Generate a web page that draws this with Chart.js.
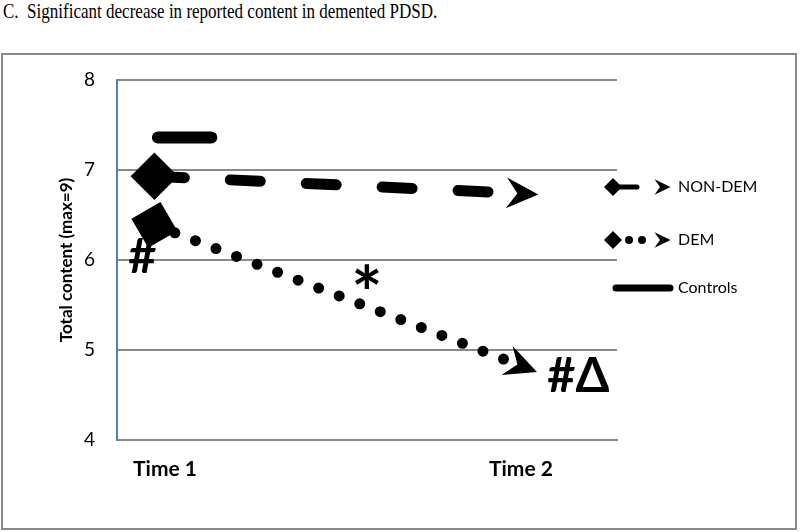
<!DOCTYPE html>
<html>
<head>
<meta charset="utf-8">
<script src="https://cdn.jsdelivr.net/npm/chart.js@4.4.1/dist/chart.umd.min.js"></script>
<style>
  html, body { margin: 0; padding: 0; background: #fff; }
  body { width: 800px; height: 532px; position: relative; overflow: hidden; }
  #caption {
    position: absolute; left: 3px; top: 0px;
    font-family: "Liberation Serif", "Times New Roman", serif;
    font-size: 22px; line-height: 1; white-space: pre; color: #000;
    transform-origin: left top;
  }
  #frame {
    position: absolute; left: 1px; top: 53px; width: 792px; height: 473px;
    border: 2px solid #8a8a8a;
  }
  #wrap { position: absolute; left: 0; top: 0; width: 800px; height: 532px; }
</style>
</head>
<body>
<div id="caption">C.  Significant decrease in reported content in demented PDSD.</div>
<div id="frame"></div>
<div id="wrap"><canvas id="chart" width="800" height="532"></canvas></div>
<script>
document.addEventListener("DOMContentLoaded", function () {

  // data
  const timeLabels = ['Time 1', 'Time 2'];
  const timeX = [0.97, 1.99];
  const nonDem = [6.93, 6.74];
  const dem = [6.39, 4.84];
  const controlsX = [0.98, 1.13];
  const controls = [7.36, 7.36];
  const yTicks = [4, 5, 6, 7, 8];

  // squeeze caption to the width it has in the figure
  const cap = document.getElementById('caption');
  cap.style.transform = 'scaleX(' + (434 / cap.offsetWidth) + ')';

  const pts = (xs, ys) => xs.map((x, i) => ({ x: x, y: ys[i] }));

  function drawArrow(ctx, x, y, ang, s) {
    // notch sits at (x, y), tip points along ang
    ctx.save();
    ctx.translate(x, y);
    ctx.rotate(ang);
    ctx.beginPath();
    ctx.moveTo(21 * s, 0);
    ctx.lineTo(-11 * s, -15.5 * s);
    ctx.lineTo(0, 0);
    ctx.lineTo(-11 * s, 15.5 * s);
    ctx.closePath();
    ctx.fillStyle = '#000';
    ctx.fill();
    ctx.restore();
  }

  function drawDiamond(ctx, x, y, r) {
    ctx.beginPath();
    ctx.moveTo(x - r, y);
    ctx.lineTo(x, y - r);
    ctx.lineTo(x + r, y);
    ctx.lineTo(x, y + r);
    ctx.closePath();
    ctx.fill();
  }

  // draw a glyph string so its ink box is centred on (cx, cy) with height h
  function markText(ctx, txt, cx, cy, h) {
    ctx.font = 'bold 100px Lato';
    let m = ctx.measureText(txt);
    const size = 100 * h / (m.actualBoundingBoxAscent + m.actualBoundingBoxDescent);
    ctx.font = 'bold ' + size + 'px Lato';
    m = ctx.measureText(txt);
    const w = m.actualBoundingBoxLeft + m.actualBoundingBoxRight;
    const x = cx - w / 2 + m.actualBoundingBoxLeft;
    const y = cy + (m.actualBoundingBoxAscent - m.actualBoundingBoxDescent) / 2;
    ctx.fillText(txt, x, y);
  }

  const arrowPlugin = {
    id: 'arrows',
    afterDatasetsDraw(chart) {
      const ctx = chart.ctx;
      chart.data.datasets.forEach((ds, i) => {
        if (!ds.arrowEnd) return;
        const p = chart.getDatasetMeta(i).data;
        const a = p[p.length - 2], b = p[p.length - 1];
        drawArrow(ctx, b.x, b.y, Math.atan2(b.y - a.y, b.x - a.x), 1);
      });

      // significance marks, placed off the DEM line
      const d = chart.getDatasetMeta(1).data;
      ctx.save();
      ctx.fillStyle = '#000';
      ctx.textAlign = 'left';
      ctx.textBaseline = 'alphabetic';
      markText(ctx, '#', d[0].x - 12, d[0].y + 31, 35);
      markText(ctx, '#\u0394', d[1].x + 61, d[1].y + 10, 35);
      markText(ctx, '*', (d[0].x + d[1].x) / 2 + 31, (d[0].y + d[1].y) / 2 - 18, 25);
      ctx.restore();
    }
  };

  const legendPlugin = {
    id: 'sideLegend',
    afterDraw(chart) {
      const ctx = chart.ctx;
      const x0 = 613, tx = 678;
      const rows = [187, 240, 288];
      ctx.save();
      ctx.fillStyle = '#000';
      ctx.strokeStyle = '#000';
      ctx.lineCap = 'round';

      // NON-DEM
      ctx.lineWidth = 5;
      ctx.beginPath(); ctx.moveTo(x0, rows[0]); ctx.lineTo(637, rows[0]); ctx.stroke();
      drawDiamond(ctx, x0, rows[0], 9);
      drawArrow(ctx, 660, rows[0], 0, 0.5);

      // DEM
      drawDiamond(ctx, x0, rows[1], 9);
      [629, 642].forEach(x => { ctx.beginPath(); ctx.arc(x, rows[1], 4, 0, Math.PI * 2); ctx.fill(); });
      drawArrow(ctx, 660, rows[1], 0, 0.5);

      // Controls
      ctx.lineWidth = 7;
      ctx.beginPath(); ctx.moveTo(616, rows[2]); ctx.lineTo(670, rows[2]); ctx.stroke();

      ctx.font = '16px Lato';
      ctx.textBaseline = 'middle';
      ctx.textAlign = 'left';
      chart.data.datasets.forEach((ds, i) => ctx.fillText(ds.label, tx, rows[i]));
      ctx.restore();
    }
  };

  new Chart(document.getElementById('chart'), {
    type: 'line',
    data: {
      datasets: [{
        label: 'NON-DEM',
        data: pts(timeX, nonDem),
        borderColor: '#000',
        backgroundColor: '#000',
        borderWidth: 11,
        borderDash: [30, 46],
        borderCapStyle: 'round',
        pointStyle: 'rectRot',
        pointRadius: [16, 0],
        arrowEnd: true
      }, {
        label: 'DEM',
        data: pts(timeX, dem),
        borderColor: '#000',
        backgroundColor: '#000',
        borderWidth: 11,
        borderDash: [0, 22],
        borderCapStyle: 'round',
        pointStyle: 'rectRot',
        rotation: 15,
        pointRadius: [16, 0],
        arrowEnd: true
      }, {
        label: 'Controls',
        data: pts(controlsX, controls),
        borderColor: '#000',
        borderWidth: 12,
        borderCapStyle: 'round',
        pointRadius: 0
      }]
    },
    options: {
      responsive: false,
      animation: false,
      devicePixelRatio: 1,
      layout: { padding: { left: 0, top: 80, right: 183, bottom: 0 } },
      plugins: {
        legend: { display: false },
        tooltip: { enabled: false }
      },
      scales: {
        x: {
          type: 'linear',
          min: 0.865,
          max: 2.27,
          afterBuildTicks: s => { s.ticks = timeX.map((v, i) => ({ value: Math.round(v) })); },
          afterFit: s => { s.height = 92; },
          grid: { display: false, drawTicks: false },
          border: { color: '#8a8a8a', width: 2 },
          ticks: {
            padding: 17,
            color: '#000',
            font: { family: 'Lato', size: 21, weight: 'bold' },
            maxRotation: 0,
            callback: (v, i) => timeLabels[i]
          }
        },
        y: {
          min: 4,
          max: 8,
          afterBuildTicks: s => { s.ticks = yTicks.map(v => ({ value: v })); },
          afterFit: s => { s.width = 117; },
          grid: { color: '#8a8a8a', lineWidth: 2, drawTicks: false },
          border: { color: '#4f81bd', width: 2 },
          ticks: {
            padding: 22,
            color: '#000',
            font: { family: 'Lato', size: 19 }
          },
          title: {
            display: true,
            text: 'Total content (max=9)',
            color: '#000',
            font: { family: 'Lato', size: 17, weight: 'bold' },
            padding: { top: 56, bottom: 0 }
          }
        }
      }
    },
    plugins: [arrowPlugin, legendPlugin]
  });
});
</script>
</body>
</html>
